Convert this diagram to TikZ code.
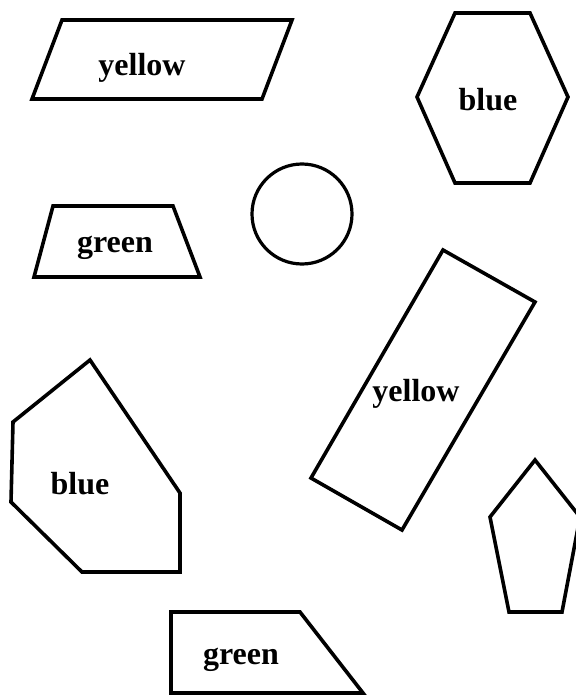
\documentclass[tikz,border=0pt]{standalone}
\usepackage{fontspec}
\setmainfont{Liberation Serif}
\begin{document}
\begin{tikzpicture}[x=1pt,y=-1pt,
  shapeline/.style={draw=black,line width=3.6pt,line join=miter},
  lbl/.style={font=\fontsize{32}{38}\selectfont\bfseries,inner sep=0pt}]
\useasboundingbox (0,0) rectangle (575,698);
% yellow parallelogram
\draw[shapeline] (32,99) -- (62,20) -- (292,20) -- (262,99) -- cycle;
\node[lbl] (y1) at (142,68) {yellow};
% blue hexagon
\draw[shapeline] (455,13) -- (530,13) -- (568,97) -- (530,183) -- (455,183) -- (417,97) -- cycle;
\node[lbl] (b1) at (488,100) {blue};
% green trapezoid
\draw[shapeline] (34,277) -- (53,206) -- (173,206) -- (200,277) -- cycle;
\node[lbl] (g1) at (115,248) {green};
% circle
\draw[line width=3.2pt] (302,214) circle (50);
% rotated yellow rectangle
\draw[shapeline] (443,250) -- (535,302) -- (402,530) -- (311,478) -- cycle;
\node[lbl] (y2) at (416,394) {yellow};
% blue polygon
\draw[shapeline] (90,360) -- (180,493) -- (180,572) -- (82,572) -- (11,502) -- (13,422) -- cycle;
\node[lbl] (b2) at (80,484) {blue};
% pentagon
\draw[shapeline] (535,460) -- (580,517) -- (562,612) -- (509,612) -- (490,517) -- cycle;
% green trapezoid bottom
\draw[shapeline] (171,612) -- (300,612) -- (363,693) -- (171,693) -- cycle;
\node[lbl] (g2) at (241,660) {green};
\end{tikzpicture}
\end{document}
